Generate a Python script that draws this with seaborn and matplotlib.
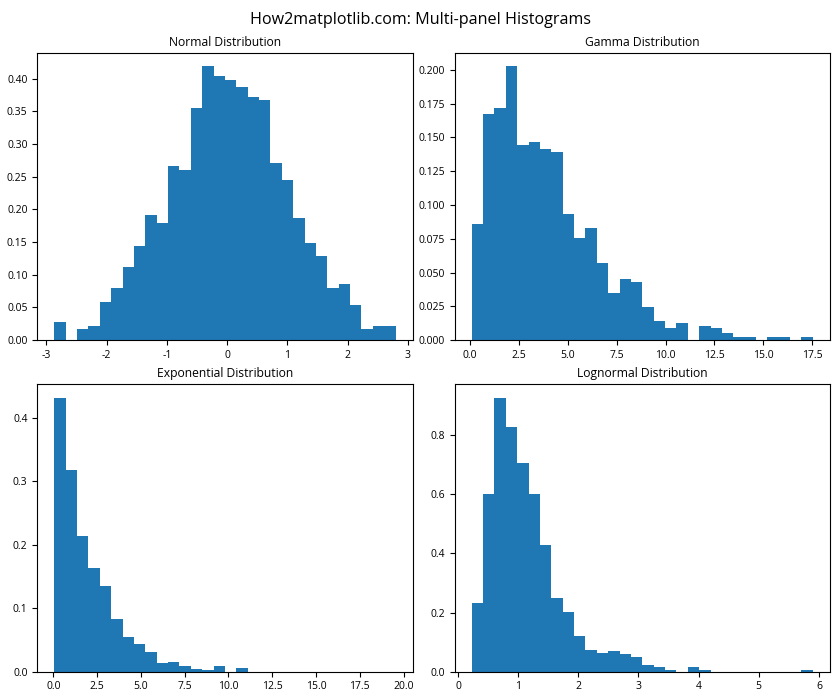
import numpy as np
import pandas as pd
import matplotlib
matplotlib.use('Agg')
import matplotlib.pyplot as plt
import seaborn as sns

plt.rcParams['font.family'] = ['Open Sans', 'DejaVu Sans']
plt.rcParams['axes.unicode_minus'] = False

# ── DATA (density heights, 30 bins per panel) ────────────────────────────────
normal_range = (-2.867, 2.794)
normal_heights = [0.0275, 0.0, 0.0168, 0.0214, 0.0581, 0.080, 0.1116, 0.1437,
                  0.191, 0.180, 0.266, 0.260, 0.356, 0.419, 0.4036, 0.3975,
                  0.3868, 0.3715, 0.3669, 0.2706, 0.2446, 0.1865, 0.1483,
                  0.1284, 0.080, 0.0856, 0.0535, 0.0168, 0.0214, 0.0214]

gamma_range = (0.09, 17.53)
gamma_heights = [0.0860, 0.167, 0.1714, 0.2025, 0.1441, 0.1463, 0.1411, 0.1389,
                 0.0931, 0.0754, 0.0828, 0.0569, 0.0347, 0.0451, 0.0429, 0.0244,
                 0.0140, 0.0089, 0.0126, 0.0, 0.0103, 0.0089, 0.0052, 0.0022,
                 0.0022, 0.0, 0.0022, 0.0022, 0.0, 0.0022]

expon_range = (0.06, 19.54)
expon_heights = [0.431, 0.3176, 0.2136, 0.1633, 0.1349, 0.0835, 0.0546, 0.0436,
                 0.0310, 0.0136, 0.0152, 0.0089, 0.0042, 0.0026, 0.0089, 0.0,
                 0.0058, 0.0, 0.0, 0.0, 0.0, 0.0, 0.0, 0.0,
                 0.0, 0.0, 0.0, 0.0, 0.0, 0.0]

lognorm_range = (0.2275, 5.899)
lognorm_heights = [0.2324, 0.601, 0.926, 0.828, 0.706, 0.601, 0.429, 0.249,
                   0.202, 0.121, 0.0733, 0.0632, 0.070, 0.0598, 0.0496, 0.0226,
                   0.0158, 0.0056, 0.0, 0.0158, 0.0056, 0.0, 0.0, 0.0,
                   0.0, 0.0, 0.0, 0.0, 0.0, 0.0056]

panels = [
    ('Normal Distribution',      normal_range,  normal_heights),
    ('Gamma Distribution',       gamma_range,   gamma_heights),
    ('Exponential Distribution', expon_range,   expon_heights),
    ('Lognormal Distribution',   lognorm_range, lognorm_heights),
]

# ── PLOT ─────────────────────────────────────────────────────────────────────
fig, axes = plt.subplots(2, 2, figsize=(8.4, 7), dpi=100)
fig.subplots_adjust(left=0.0444, right=0.988, top=0.9247, bottom=0.0404,
                    wspace=0.112, hspace=0.154)

for ax, (title, (lo, hi), heights) in zip(axes.flat, panels):
    n = len(heights)
    step = (hi - lo) / n
    # one point at the centre of each bin, weighted by the bar height
    centres = lo + step * (np.arange(n) + 0.5)
    df = pd.DataFrame({'x': centres, 'h': heights})
    sns.histplot(data=df, x='x', weights='h', bins=n, binrange=(lo, hi),
                 stat='count', color='#1f77b4', alpha=1, linewidth=0, ax=ax)
    ax.set_title(title, fontsize=8.7, pad=5)
    ax.set_xlabel('')
    ax.set_ylabel('')
    ax.tick_params(labelsize=7.5)

fig.suptitle('How2matplotlib.com: Multi-panel Histograms', fontsize=11.6,
             y=0.971, va='center')
plt.savefig('out.png', dpi=100)
plt.close()
